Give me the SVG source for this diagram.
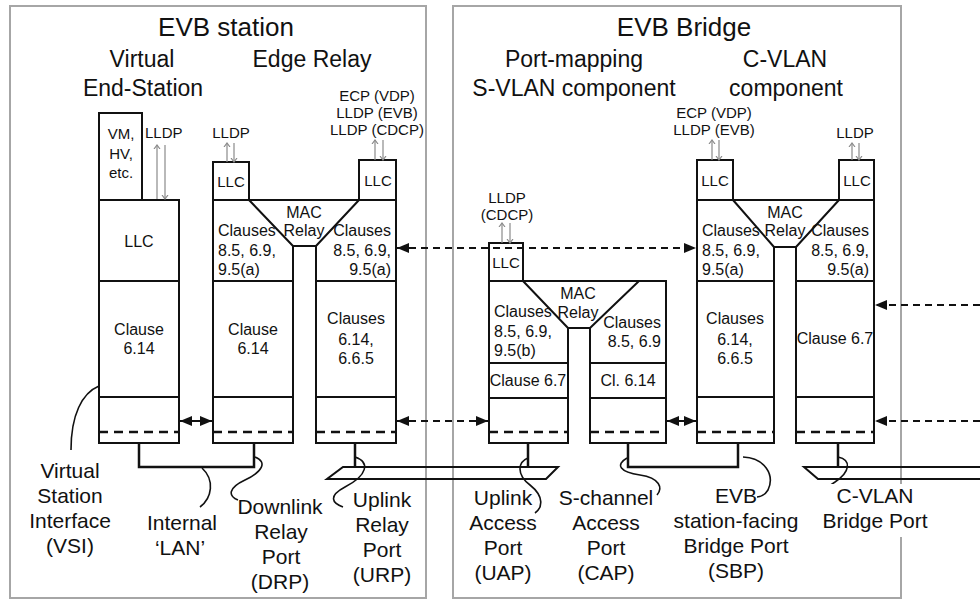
<svg xmlns="http://www.w3.org/2000/svg" width="980" height="600" viewBox="0 0 980 600">
<defs>
<style>
.frame{fill:none;stroke:#a6a6a6;stroke-width:2}
.box{fill:none;stroke:#111;stroke-width:2}
.sep{fill:none;stroke:#111;stroke-width:2}
.dash{fill:none;stroke:#111;stroke-width:2.5;stroke-dasharray:9 6}
.wire{fill:none;stroke:#111;stroke-width:2.5}
.lead{fill:none;stroke:#111;stroke-width:1.6}
.darr{fill:none;stroke:#111;stroke-width:2;stroke-dasharray:7 5}
.sarr{fill:none;stroke:#111;stroke-width:2}
.garr{fill:none;stroke:#8a8a8a;stroke-width:1.2}
text{font-family:"Liberation Sans",Arial,sans-serif;fill:#111}
.title{font-size:26px}
.sub{font-size:23px}
.c{font-size:16px}
.s{font-size:15px}
.lbl{font-size:21px}
.m{text-anchor:middle}
.e{text-anchor:end}
</style>
<marker id="ah" viewBox="0 0 12 10" refX="12" refY="5" markerWidth="12" markerHeight="10" markerUnits="userSpaceOnUse" orient="auto-start-reverse">
<path d="M0,0 L12,5 L0,10 Z" fill="#111"/>
</marker>
<marker id="ga" viewBox="0 0 6 6" refX="3" refY="0.5" markerWidth="6" markerHeight="6" markerUnits="userSpaceOnUse" orient="auto">
<path d="M0,0 L3,0.5 L0,1" fill="none"/>
</marker>
<marker id="gh" viewBox="-4 -4 8 8" refX="0" refY="0" markerWidth="8" markerHeight="8" markerUnits="userSpaceOnUse" orient="auto">
<path d="M-4,-3 L0,0 L-4,3" fill="none" stroke="#8a8a8a" stroke-width="1.2"/>
</marker>
</defs>
<rect width="980" height="600" fill="#fff"/>

<g id="evb-station">
<rect class="frame" x="10" y="6" width="416" height="592"/>
<text class="title m" x="226" y="36">EVB station</text>
</g>
<g id="evb-bridge">
<rect class="frame" x="453" y="6" width="448" height="592"/>
<text class="title m" x="684" y="36">EVB Bridge</text>
</g>

<g id="virtual-end-station">
<text class="sub m" x="142" y="67">Virtual</text>
<text class="sub m" x="143" y="96">End-Station</text>
<rect class="box" x="99" y="113" width="43" height="87"/>
<rect class="box" x="99" y="200" width="80" height="243"/>
<path class="sep" d="M99,281 H179 M99,397 H179"/>
<path class="dash" d="M99,432 H179"/>
<text class="s m" x="121" y="139">VM,</text>
<text class="s m" x="121" y="159">HV,</text>
<text class="s m" x="121" y="178">etc.</text>
<text class="s" x="145" y="138">LLDP</text>
<text class="c m" x="139" y="247">LLC</text>
<text class="c m" x="139" y="335">Clause</text>
<text class="c m" x="139" y="354">6.14</text>
</g>

<g id="edge-relay">
<text class="sub m" x="312" y="67">Edge Relay</text>
<path class="box" d="M213,200 H396 V443 H316 V246 H293 V443 H213 Z"/>
<path class="sep" d="M249,200 L293,246 M359,200 L316,246 M213,281 H293 M316,281 H396 M213,397 H293 M316,397 H396"/>
<path class="dash" d="M213,432 H293 M316,432 H396"/>
<rect class="box" x="213" y="162" width="36" height="38"/>
<rect class="box" x="359" y="160" width="37" height="40"/>
<text class="s m" x="231" y="138">LLDP</text>
<text class="s m" x="377" y="101">ECP (VDP)</text>
<text class="s m" x="377" y="118">LLDP (EVB)</text>
<text class="s m" x="377" y="135">LLDP (CDCP)</text>
<text class="s m" x="231" y="187">LLC</text>
<text class="s m" x="378" y="186">LLC</text>
<text class="c m" x="304" y="218">MAC</text>
<text class="c m" x="304" y="236">Relay</text>
<text class="c" x="218" y="236">Clauses</text>
<text class="c" x="218" y="256">8.5, 6.9,</text>
<text class="c" x="218" y="275">9.5(a)</text>
<text class="c e" x="391" y="236">Clauses</text>
<text class="c e" x="391" y="256">8.5, 6.9,</text>
<text class="c e" x="391" y="275">9.5(a)</text>
<text class="c m" x="253" y="335">Clause</text>
<text class="c m" x="253" y="354">6.14</text>
<text class="c m" x="356" y="324">Clauses</text>
<text class="c m" x="356" y="345">6.14,</text>
<text class="c m" x="356" y="364">6.6.5</text>
</g>

<g id="s-vlan-component">
<text class="sub m" x="574" y="67">Port-mapping</text>
<text class="sub m" x="574" y="96">S-VLAN component</text>
<path class="box" d="M489,281 H666 V443 H590 V328 H568 V443 H489 Z"/>
<path class="sep" d="M523,281 L568,328 M639,281 L590,328 M489,363 H568 M590,363 H666 M489,398 H568 M590,398 H666"/>
<path class="dash" d="M489,432 H568 M590,432 H666"/>
<rect class="box" x="489" y="243" width="34" height="38"/>
<text class="s m" x="507" y="203">LLDP</text>
<text class="s m" x="507" y="220">(CDCP)</text>
<text class="s m" x="506" y="268">LLC</text>
<text class="c m" x="578" y="299">MAC</text>
<text class="c m" x="578" y="318">Relay</text>
<text class="c" x="494" y="317">Clauses</text>
<text class="c" x="494" y="337">8.5, 6.9,</text>
<text class="c" x="494" y="356">9.5(b)</text>
<text class="c e" x="661" y="328">Clauses</text>
<text class="c e" x="661" y="347">8.5, 6.9</text>
<text class="c m" x="528" y="386">Clause 6.7</text>
<text class="c m" x="628" y="386">Cl. 6.14</text>
</g>

<g id="c-vlan-component">
<text class="sub m" x="785" y="67">C-VLAN</text>
<text class="sub m" x="786" y="96">component</text>
<path class="box" d="M697,200 H874 V443 H796 V247 H774 V443 H697 Z"/>
<path class="sep" d="M733,200 L774,247 M839,200 L796,247 M697,281 H774 M796,281 H874 M697,397 H774 M796,397 H874"/>
<path class="dash" d="M697,432 H774 M796,432 H874"/>
<rect class="box" x="697" y="160" width="36" height="40"/>
<rect class="box" x="839" y="160" width="35" height="40"/>
<text class="s m" x="714" y="118">ECP (VDP)</text>
<text class="s m" x="714" y="135">LLDP (EVB)</text>
<text class="s m" x="855" y="138">LLDP</text>
<text class="s m" x="715" y="186">LLC</text>
<text class="s m" x="857" y="186">LLC</text>
<text class="c m" x="785" y="218">MAC</text>
<text class="c m" x="785" y="236">Relay</text>
<text class="c" x="702" y="236">Clauses</text>
<text class="c" x="702" y="256">8.5, 6.9,</text>
<text class="c" x="702" y="275">9.5(a)</text>
<text class="c e" x="869" y="236">Clauses</text>
<text class="c e" x="869" y="256">8.5, 6.9,</text>
<text class="c e" x="869" y="275">9.5(a)</text>
<text class="c m" x="735" y="324">Clauses</text>
<text class="c m" x="735" y="345">6.14,</text>
<text class="c m" x="735" y="364">6.6.5</text>
<text class="c m" x="835" y="344">Clause 6.7</text>
</g>

<g id="connectors">
<path class="wire" d="M139,443 V467 H254 V443"/>
<path class="wire" d="M355,443 V467 M528,443 V467 M838,443 V467"/>
<path class="wire" d="M628,443 V467 H738 V443"/>
<path class="sep" d="M343,467 H558 L546,479 H327 Z"/>
<path class="sep" d="M980,467 H804 L818,479 H980"/>
<path class="sarr" d="M180,421 H212" marker-start="url(#ah)" marker-end="url(#ah)"/>
<path class="sarr" d="M667,421 H696" marker-start="url(#ah)" marker-end="url(#ah)"/>
<path class="darr" d="M397,248 H696" marker-start="url(#ah)" marker-end="url(#ah)"/>
<path class="darr" d="M397,421 H488" marker-start="url(#ah)" marker-end="url(#ah)"/>
<path class="darr" d="M980,305 H875" marker-end="url(#ah)"/>
<path class="darr" d="M980,421 H875" marker-end="url(#ah)"/>
<path class="garr" d="M157,199 V145" marker-end="url(#gh)"/>
<path class="garr" d="M165,145 V199" marker-end="url(#gh)"/>
<path class="garr" d="M227,162 V143" marker-end="url(#gh)"/>
<path class="garr" d="M234,143 V162" marker-end="url(#gh)"/>
<path class="garr" d="M375,160 V140" marker-end="url(#gh)"/>
<path class="garr" d="M383,140 V160" marker-end="url(#gh)"/>
<path class="garr" d="M502,243 V223" marker-end="url(#gh)"/>
<path class="garr" d="M510,223 V243" marker-end="url(#gh)"/>
<path class="garr" d="M712,160 V140" marker-end="url(#gh)"/>
<path class="garr" d="M719,140 V160" marker-end="url(#gh)"/>
<path class="garr" d="M852,160 V143" marker-end="url(#gh)"/>
<path class="garr" d="M859,143 V160" marker-end="url(#gh)"/>
<path class="lead" d="M99,386 C82,393 71,415 71,450"/>
<path class="lead" d="M202,468 C215,480 212,498 200,507"/>
<path class="lead" d="M255,457 C268,462 262,472 245,480 C228,488 228,496 238,500"/>
<path class="lead" d="M355,457 C370,462 368,475 345,487 C328,496 332,503 343,507"/>
<path class="lead" d="M528,458 C518,462 516,474 530,485 C545,497 542,508 535,513"/>
<path class="lead" d="M627,458 C615,465 620,472 640,475 C660,478 663,488 657,495"/>
<path class="lead" d="M743,457 C765,458 775,475 768,490 C765,495 760,497 757,497"/>
<path class="lead" d="M838,457 C852,460 850,472 835,482 C822,490 825,496 838,497"/>
</g>

<g id="labels">
<text class="lbl m" x="70" y="478">Virtual</text>
<text class="lbl m" x="70" y="503">Station</text>
<text class="lbl m" x="70" y="528">Interface</text>
<text class="lbl m" x="70" y="553">(VSI)</text>
<text class="lbl m" x="182" y="530">Internal</text>
<text class="lbl m" x="180" y="555">‘LAN’</text>
<text class="lbl m" x="280" y="514">Downlink</text>
<text class="lbl m" x="281" y="539">Relay</text>
<text class="lbl m" x="281" y="564">Port</text>
<text class="lbl m" x="280" y="589">(DRP)</text>
<text class="lbl m" x="382" y="507">Uplink</text>
<text class="lbl m" x="382" y="532">Relay</text>
<text class="lbl m" x="382" y="557">Port</text>
<text class="lbl m" x="382" y="582">(URP)</text>
<text class="lbl m" x="503" y="505">Uplink</text>
<text class="lbl m" x="503" y="530">Access</text>
<text class="lbl m" x="503" y="555">Port</text>
<text class="lbl m" x="503" y="580">(UAP)</text>
<text class="lbl m" x="606" y="505">S-channel</text>
<text class="lbl m" x="606" y="530">Access</text>
<text class="lbl m" x="606" y="555">Port</text>
<text class="lbl m" x="606" y="580">(CAP)</text>
<text class="lbl m" x="736" y="503">EVB</text>
<text class="lbl m" x="736" y="528">station-facing</text>
<text class="lbl m" x="736" y="553">Bridge Port</text>
<text class="lbl m" x="736" y="578">(SBP)</text>
<rect x="822" y="484" width="108" height="53" fill="#fff"/>
<text class="lbl m" x="875" y="503">C-VLAN</text>
<text class="lbl m" x="875" y="528">Bridge Port</text>
</g>
</svg>
